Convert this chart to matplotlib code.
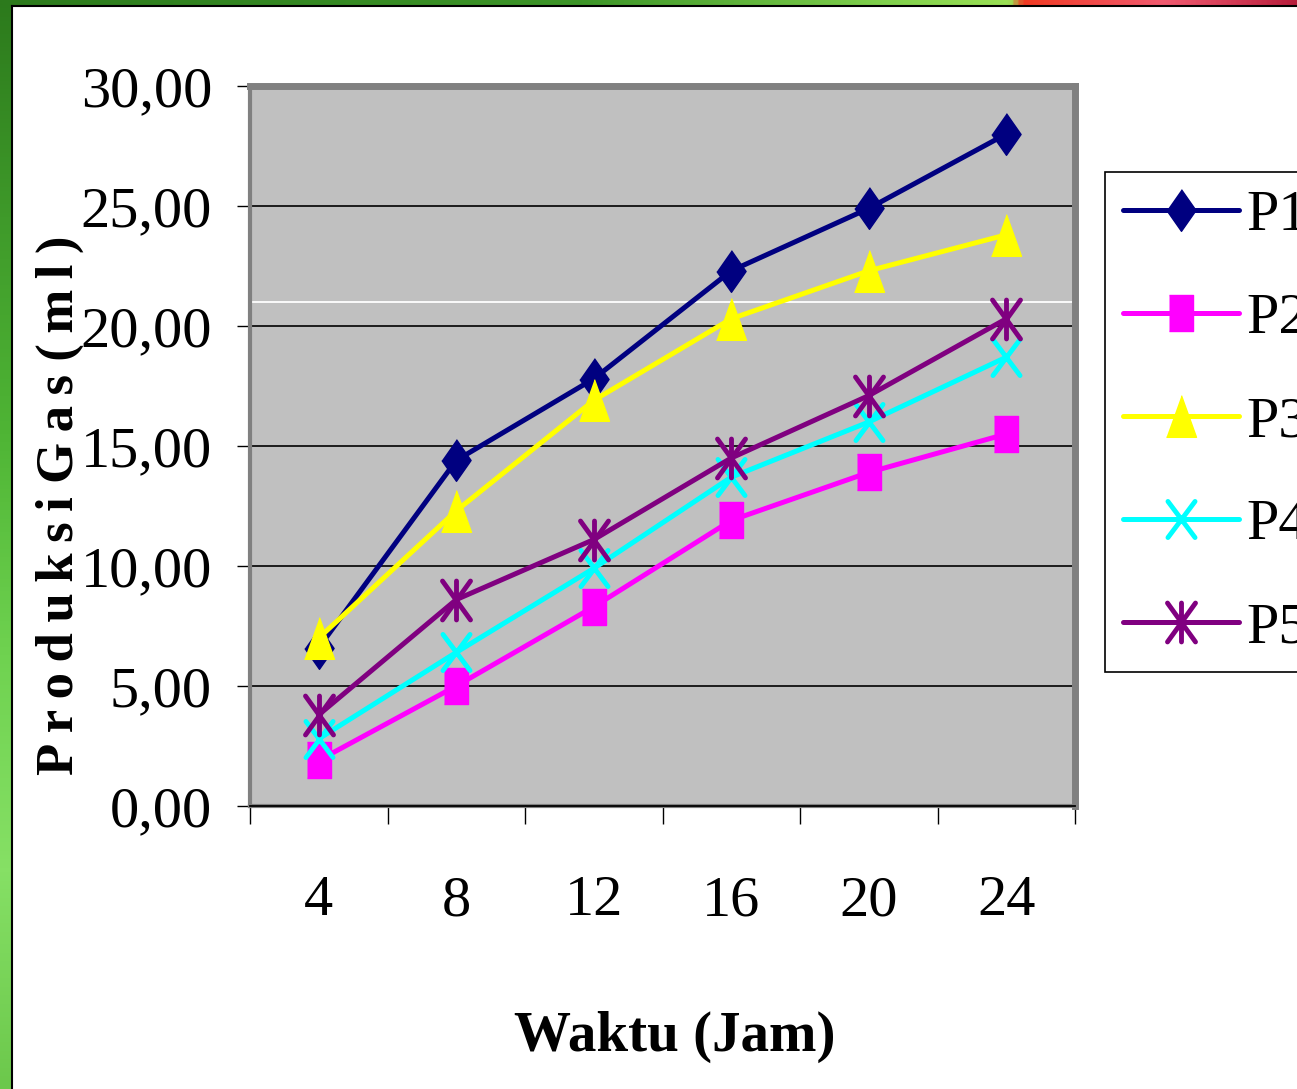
import numpy as np
import matplotlib
matplotlib.use("Agg")
import matplotlib.pyplot as plt
from matplotlib.path import Path
from matplotlib.lines import Line2D
from matplotlib.markers import MarkerStyle
from matplotlib.colors import LinearSegmentedColormap

plt.rcParams["font.family"] = ["Liberation Serif", "DejaVu Serif"]

# ---- data -------------------------------------------------------------
hours = [4, 8, 12, 16, 20, 24]
p1 = [6.6, 14.4, 17.8, 22.3, 24.9, 28.0]
p2 = [1.9, 5.0, 8.3, 11.9, 13.9, 15.5]
p3 = [7.0, 12.3, 16.9, 20.3, 22.3, 23.8]
p4 = [2.8, 6.4, 9.9, 13.7, 16.0, 18.7]
p5 = [3.8, 8.6, 11.1, 14.5, 17.1, 20.3]
series_names = ["P1", "P2", "P3", "P4", "P5"]
y_ticks = [0, 5, 10, 15, 20, 25, 30]
y_tick_labels = ["0,00", "5,00", "10,00", "15,00", "20,00", "25,00", "30,00"]

W, H = 1297, 1089
fig = plt.figure(figsize=(W / 100, H / 100), dpi=100, facecolor="white")


def fx(px):
    return px / W


def fy(py):
    return 1 - py / H


# ---- slide background strips -------------------------------------------
left_cmap = LinearSegmentedColormap.from_list(
    "left", ["#2c7a1c", "#3f9a2a", "#4fb535", "#6fd250", "#86e065", "#6cc84c"])
top_cmap = LinearSegmentedColormap.from_list(
    "top", [(0.0, "#2c7a1c"), (0.45, "#3d9528"), (0.68, "#7fcf4c"),
            (0.78, "#9be055"), (0.79, "#f03a22"), (0.9, "#f05a70"),
            (1.0, "#b81e3c")])
lax = fig.add_axes([0, 0, fx(12), 1])
lax.imshow(np.linspace(0, 1, 256).reshape(-1, 1), cmap=left_cmap, aspect="auto")
lax.axis("off")
tax = fig.add_axes([0, fy(6), 1, 6 / H])
tax.imshow(np.linspace(0, 1, 512).reshape(1, -1), cmap=top_cmap, aspect="auto")
tax.axis("off")
fig.add_artist(Line2D([fx(12), fx(12)], [fy(6), 0], color="black", lw=1.5,
                      transform=fig.transFigure))
fig.add_artist(Line2D([fx(12), 1], [fy(6), fy(6)], color="black", lw=1.5,
                      transform=fig.transFigure))

# ---- marker shapes (tall, narrow) -------------------------------------
diamond = [(0, 1), (0.7, 0), (0, -1), (-0.7, 0)]
square = [(-0.69, -1), (0.69, -1), (0.69, 1), (-0.69, 1)]
triangle = [(0, 1), (0.72, -1), (-0.72, -1)]
cross = Path([(-0.75, -1), (0.75, 1), (-0.75, 1), (0.75, -1)],
             [Path.MOVETO, Path.LINETO, Path.MOVETO, Path.LINETO])
star = Path([(-0.72, -1), (0.72, 1), (-0.72, 1), (0.72, -1), (0, -1), (0, 1)],
            [Path.MOVETO, Path.LINETO, Path.MOVETO, Path.LINETO,
             Path.MOVETO, Path.LINETO])

styles = [
    dict(color="#000080", marker=MarkerStyle(diamond), ms=30, mew=1),
    dict(color="#ff00ff", marker=MarkerStyle(square), ms=26, mew=1),
    dict(color="#ffff00", marker=MarkerStyle(triangle), ms=30, mew=1),
    dict(color="#00ffff", marker=MarkerStyle(cross, capstyle="round"), ms=26, mew=3.5),
    dict(color="#800080", marker=MarkerStyle(star, capstyle="round"), ms=28, mew=3.5),
]

# ---- main plot ---------------------------------------------------------
ax = fig.add_axes([fx(250), fy(806), 825 / W, 720 / H])
ax.set_facecolor("#c0c0c0")
x = np.arange(len(hours))

for yv in y_ticks[1:-1]:
    ax.axhline(yv, color="black", lw=1.2, zorder=1)
ax.axhline(21, color="white", lw=1.3, zorder=1)

for name, vals, st in zip(series_names, [p1, p2, p3, p4, p5], styles):
    ax.plot(x, vals, color=st["color"], lw=3.6, solid_capstyle="round",
            solid_joinstyle="round", marker=st["marker"], ms=st["ms"],
            mew=st["mew"], mec=st["color"], mfc=st["color"], label=name,
            zorder=3, clip_on=False)

ax.set_xlim(-0.5, len(hours) - 0.5)
ax.set_ylim(0, 30)
ax.set_yticks(y_ticks)
ax.set_yticklabels(y_tick_labels, fontsize=42)
ax.set_xticks(x)
ax.set_xticklabels([str(h) for h in hours], fontsize=42)
ax.set_xticks(np.arange(-0.5, len(hours), 1), minor=True)
ax.tick_params(axis="y", length=9.4, width=1, color="black", pad=18, direction="out")
ax.tick_params(axis="x", which="major", length=0, pad=50)
ax.tick_params(axis="x", which="minor", length=13, width=1, color="black",
               direction="out")

for side, lw in [("left", 3), ("bottom", 3), ("top", 5), ("right", 5)]:
    ax.spines[side].set_color("#808080")
    ax.spines[side].set_linewidth(lw)
ax.axhline(0, color="black", lw=1.3, zorder=2.6, clip_on=False)

leg = ax.legend(loc="upper left", bbox_to_anchor=(fx(1105), fy(172)),
                bbox_transform=fig.transFigure, borderaxespad=0, frameon=True,
                fancybox=False, edgecolor="black", framealpha=1, fontsize=42,
                handlelength=2.0, handletextpad=0.12, borderpad=0.3,
                labelspacing=0.86, numpoints=1)
leg.get_frame().set_linewidth(1.2)

fig.text(fx(675), fy(1037), "Waktu (Jam)", ha="center", va="center",
         fontsize=41, fontweight="bold")
thin = "\u2009"
ylabel = " ".join(thin.join(word) for word in ["Produksi", "Gas", "(ml)"])
fig.text(fx(60), fy(505), ylabel, rotation=90,
         ha="center", va="center", fontsize=38, fontweight="bold")

fig.savefig("out.png", dpi=100, facecolor="white")
